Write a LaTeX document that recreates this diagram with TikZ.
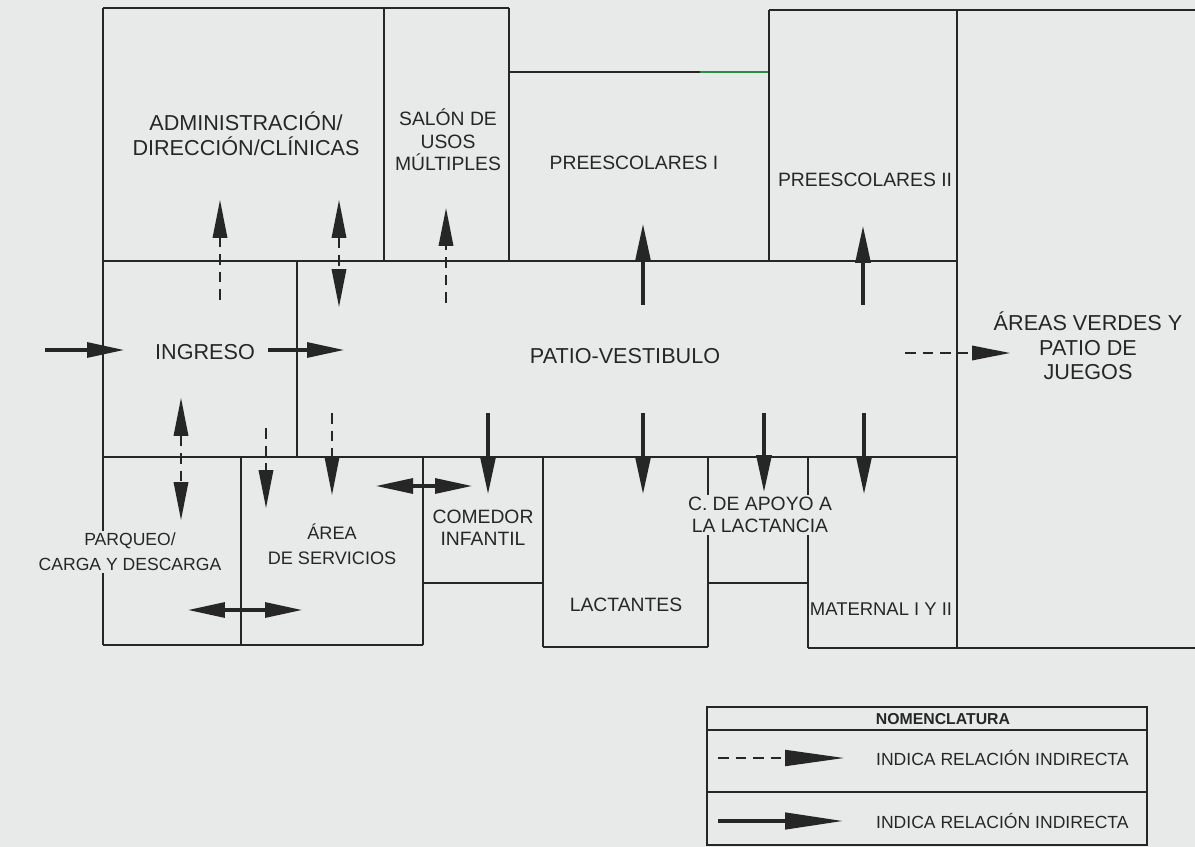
\documentclass[tikz,border=0pt]{standalone}
\usepackage{fontspec}
\setmainfont{Liberation Sans}
\usetikzlibrary{arrows.meta}
\definecolor{bg}{RGB}{232,234,234}
\definecolor{ink}{RGB}{38,38,38}
\definecolor{greenline}{RGB}{40,140,70}
\begin{document}
\begin{tikzpicture}[x=0.02cm,y=-0.02cm,
  wall/.style={draw=ink,line width=1pt},
  lbl/.style={font=\fontsize{11}{12.8}\selectfont, align=center, text=ink, inner sep=1pt},
  smalllbl/.style={font=\fontsize{10.3}{14}\selectfont, align=center, text=ink, inner sep=1pt},
  biglbl/.style={font=\fontsize{12.3}{14}\selectfont, align=center, text=ink, inner sep=1pt},
  leglbl/.style={font=\fontsize{10}{11}\selectfont, text=ink, inner sep=1pt},
  cover/.style={fill=bg},
  solidrel/.style={draw=ink, line width=2.6pt, -{Triangle[length=0.76cm,width=0.29cm]}},
  solidboth/.style={draw=ink, line width=2.6pt, {Triangle[length=0.76cm,width=0.29cm]}-{Triangle[length=0.76cm,width=0.29cm]}},
  dashrel/.style={draw=ink, line width=1.1pt, dash pattern=on 6pt off 4pt, -{Triangle[length=0.76cm,width=0.29cm]}},
  dashboth/.style={draw=ink, line width=1.1pt, dash pattern=on 6pt off 4pt, {Triangle[length=0.76cm,width=0.29cm]}-{Triangle[length=0.76cm,width=0.29cm]}},
]
\useasboundingbox (0,0) rectangle (1195,847);
\fill[bg] (0,0) rectangle (1195,847);

% ---------- walls ----------
\draw[wall] (103,8) -- (509,8);
\draw[wall] (103,8) -- (103,645);
\draw[wall] (384,8) -- (384,261);
\draw[wall] (509,8) -- (509,261);
\draw[wall] (509,72) -- (700,72);
\draw[draw=greenline,line width=1pt] (700,72) -- (769,72);
\draw[wall] (769,10) -- (1195,10);
\draw[wall] (769,10) -- (769,261);
\draw[wall] (957,10) -- (957,648);
\draw[wall] (103,261) -- (957,261);
\draw[wall] (297,261) -- (297,457);
\draw[wall] (103,457) -- (957,457);
\draw[wall] (241,457) -- (241,645);
\draw[wall] (103,645) -- (423,645);
\draw[wall] (423,457) -- (423,645);
\draw[wall] (423,583) -- (543,583);
\draw[wall] (543,457) -- (543,647);
\draw[wall] (543,647) -- (708,647);
\draw[wall] (708,457) -- (708,647);
\draw[wall] (708,583) -- (808,583);
\draw[wall] (808,457) -- (808,648);
\draw[wall] (808,648) -- (1195,648);

% ---------- labels ----------
\node[biglbl] (admin) at (246,134) {ADMINISTRACIÓN/\\DIRECCIÓN/CLÍNICAS};
\node[lbl] (sum) at (448,140) {SALÓN DE\\USOS\\MÚLTIPLES};
\node[lbl] (pre1) at (634,163) {PREESCOLARES I};
\node[lbl] (pre2) at (865,180) {PREESCOLARES II};
\node[biglbl] (ingreso) at (205,352) {INGRESO};
\node[biglbl] (patio) at (625,356) {PATIO-VESTIBULO};
\node[biglbl] (verdes) at (1088,346) {ÁREAS VERDES Y\\PATIO DE\\JUEGOS};
\node[smalllbl,cover,font=\fontsize{10}{14}\selectfont] (parqueo) at (130,552) {PARQUEO/\\CARGA Y DESCARGA};
\node[smalllbl] (servicios) at (332,544) {ÁREA\\DE SERVICIOS};
\node[lbl] (comedor) at (483,528) {COMEDOR\\INFANTIL};
\node[lbl,cover,inner xsep=0.5pt] (apoyo) at (760,515) {C. DE APOYO A\\LA LACTANCIA};
\node[lbl] (lactantes) at (626,605) {LACTANTES};
\node[lbl,cover,inner xsep=0pt,font=\fontsize{10.5}{12}\selectfont] (maternal) at (881,609) {MATERNAL I Y II};

% ---------- arrow end points ----------
\coordinate (e1s) at (45,350);   \coordinate (e1e) at (125,350);
\coordinate (e2s) at (268,350);  \coordinate (e2e) at (345,350);
\coordinate (u1s) at (220,300);  \coordinate (u1e) at (220,200);
\coordinate (d1a) at (339,200);  \coordinate (d1b) at (339,307);
\coordinate (u2s) at (446,303);  \coordinate (u2e) at (446,208);
\coordinate (u3s) at (643,305);  \coordinate (u3e) at (643,223);
\coordinate (u4s) at (863,305);  \coordinate (u4e) at (863,225);
\coordinate (r1s) at (905,353);  \coordinate (r1e) at (1010,353);
\coordinate (d2a) at (181,398);  \coordinate (d2b) at (181,520);
\coordinate (n1s) at (266,428);  \coordinate (n1e) at (266,508);
\coordinate (n2s) at (332,413);  \coordinate (n2e) at (332,495);
\coordinate (n3s) at (488,413);  \coordinate (n3e) at (488,495);
\coordinate (n4s) at (643,413);  \coordinate (n4e) at (643,495);
\coordinate (n5s) at (764,413);  \coordinate (n5e) at (764,493);
\coordinate (n6s) at (864,413);  \coordinate (n6e) at (864,495);
\coordinate (h1a) at (375,486);  \coordinate (h1b) at (473,486);
\coordinate (h2a) at (187,610);  \coordinate (h2b) at (303,610);

% ---------- relations ----------
\draw[solidrel] (e1s) -- (e1e);
\draw[solidrel] (e2s) -- (e2e);
\draw[dashrel] (u1s) -- (u1e);
\draw[dashboth] (d1a) -- (d1b);
\draw[dashrel] (u2s) -- (u2e);
\draw[solidrel] (u3s) -- (u3e);
\draw[solidrel] (u4s) -- (u4e);
\draw[dashrel] (r1s) -- (r1e);
\draw[dashboth] (d2a) -- (d2b);
\draw[dashrel] (n1s) -- (n1e);
\draw[dashrel] (n2s) -- (n2e);
\draw[solidrel] (n3s) -- (n3e);
\draw[solidrel] (n4s) -- (n4e);
\draw[solidrel] (n5s) -- (n5e);
\draw[solidrel] (n6s) -- (n6e);
\draw[solidboth] (h1a) -- (h1b);
\draw[solidboth] (h2a) -- (h2b);

% ---------- legend ----------
\draw[wall] (707,707) rectangle (1147,845);
\draw[wall] (707,730) -- (1147,730);
\draw[wall] (707,792) -- (1147,792);
\node[font=\fontsize{9}{10}\selectfont\bfseries, text=ink, inner sep=1pt] (nomen) at (943,719) {NOMENCLATURA};
\coordinate (l1s) at (718,758); \coordinate (l1e) at (844,758);
\coordinate (l2s) at (718,821); \coordinate (l2e) at (844,821);
\draw[draw=ink, line width=1.1pt, dash pattern=on 6pt off 4pt, -{Triangle[length=1.18cm,width=0.32cm]}] (l1s) -- (l1e);
\draw[draw=ink, line width=2.6pt, -{Triangle[length=1.18cm,width=0.32cm]}] (l2s) -- (l2e);
\node[leglbl, anchor=west] (leg1) at (874,758) {INDICA RELACIÓN INDIRECTA};
\node[leglbl, anchor=west] (leg2) at (874,821) {INDICA RELACIÓN INDIRECTA};
\end{tikzpicture}
\end{document}
